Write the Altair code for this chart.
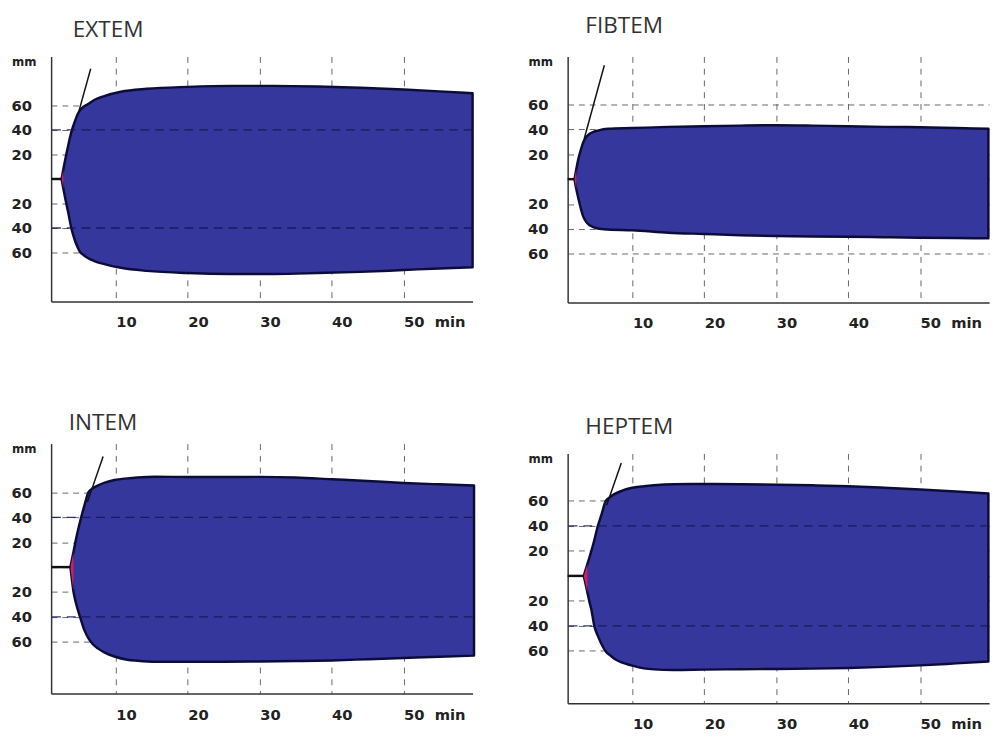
import altair as alt
import pandas as pd

# ---------------- data ----------------
# time (min), upper amplitude (mm), lower amplitude (mm, negative side)
ext_t = [2.45, 2.7, 3.0, 3.4, 3.8, 4.3, 4.7, 5.0, 5.5, 6.1, 7.0, 8.4, 10.7, 14.3, 20, 26, 32, 38, 44, 50, 55, 59.6]
ext_up = [0, 8, 17, 28, 38, 47, 53, 56, 59, 61, 64.5, 67.7, 71.2, 73.6, 75.2, 76, 76, 75.5, 74.5, 73, 71.5, 70]
ext_lo = [0, -8, -17, -28, -40, -50, -56, -59.5, -62, -64.5, -67, -69.5, -72.5, -75, -76.8, -77.5, -77.5, -76.8, -75.8, -74.3, -73, -72]
ext_ct = 2.45
ext_tan_t = [4.8, 6.5]
ext_tan_y = [54, 90]

fib_t = [1.95, 2.2, 2.5, 2.85, 3.2, 3.6, 4.05, 4.6, 5.2, 6.6, 10, 15, 20, 25, 30, 35, 40, 45, 50, 55, 59.5]
fib_up = [0, 8, 16.5, 24, 30, 34, 36.5, 38, 39, 40.4, 41, 42, 42.5, 43, 43.3, 43, 42.5, 42, 41.7, 41, 40.4]
fib_lo = [0, -8, -15.7, -24, -30.5, -34.5, -37, -38.5, -39.6, -40.4, -41, -43, -44, -45, -45.7, -46, -46.2, -46.6, -47, -47.3, -47.5]
fib_ct = 1.95
fib_tan_t = [3.3, 6.1]
fib_tan_y = [32.5, 91.5]

int_t = [3.68, 3.85, 4.1, 4.37, 4.75, 5.18, 5.65, 6.18, 6.8, 7.54, 8.46, 9.8, 11.6, 13, 15.5, 20, 25, 30, 35, 40, 45, 50, 55, 59.8]
int_up = [0, 5, 12, 20, 30, 40, 50, 60, 63.3, 65.6, 67.8, 70, 71.3, 72, 72.6, 72.4, 72.4, 72.5, 72, 70.6, 69.2, 67.6, 66.5, 65.6]
int_lo = [0, -8, -19.5, -27, -35, -43, -51, -57, -62, -65.5, -68.7, -71.8, -74.4, -75.2, -76, -76, -76, -75.8, -75.5, -75, -74, -73, -72, -71.1]
int_ct = 3.68
int_tan_t = [6.04, 8.23]
int_tan_y = [52.2, 88.9]

hep_t = [3.24, 3.45, 3.75, 4.0, 4.3, 4.7, 5.2, 5.7, 6.3, 7.0, 7.55, 8.5, 9.8, 11.6, 13, 15.7, 20, 25, 30, 35, 40, 45, 50, 55, 59.5]
hep_up = [0, 4, 9.6, 14.3, 20, 28.5, 40, 49, 60, 63.5, 65.6, 68, 70.3, 71.8, 72.6, 73.4, 73.5, 73.3, 73, 72.5, 71.8, 70.6, 69.2, 67.6, 66]
hep_lo = [0, -5.5, -13.4, -20, -27, -40, -48, -54.5, -60.5, -64, -66.5, -69.2, -71.5, -74, -74.8, -75.3, -75, -74.7, -74.5, -74.2, -73.7, -72.8, -71.6, -70, -68.5]
hep_ct = 3.24
hep_tan_t = [6.42, 8.46]
hep_tan_y = [56.5, 90.4]

x_ticks = [10, 20, 30, 40, 50]
y_ticks = [-60, -40, -20, 0, 20, 40, 60]

# ---------------- styling ----------------
BLUE = "#35379c"
OUTLINE = "#0c0c3a"
RED = "#d02060"
GRID = "#666666"
LABEL_FONT = "DejaVu Sans"
XDOM = [1, 59.6]
W = 430
NB = "\u00a0"


def make_panel(name, t, up, lo, ct, tan_t, tan_y, ydom, h, over40, tdx, toff, nred):
    df = pd.DataFrame({"t": t, "up": up, "lo": lo})
    xs = alt.Scale(domain=XDOM, nice=False, zero=False)
    ys = alt.Scale(domain=ydom, nice=False, zero=False)
    xaxis = alt.Axis(
        values=x_ticks, title=None, ticks=False,
        labelExpr="datum.value == 50 ? '50" + NB + NB + "min' : datum.label",
        labelAlign="left", labelBaseline="top", labelPadding=14,
        labelFont=LABEL_FONT, labelFontSize=15, labelFontWeight="bold", labelColor="#222",
        labelFlush=False, labelOverlap=False,
        grid=True, gridDash=[6, 6], gridColor=GRID, gridWidth=1,
        domainColor="#333", domainWidth=1.5,
    )
    yaxis = alt.Axis(
        values=y_ticks, title="mm", ticks=False,
        labelExpr="datum.value == 0 ? '' : format(abs(datum.value), 'd')",
        labelPadding=20, labelFont=LABEL_FONT, labelFontSize=15, labelFontWeight="bold",
        labelColor="#222", labelOverlap=False, labelFlush=False,
        titleAngle=0, titleX=-28, titleY=5, titleAlign="center", titleBaseline="middle",
        titleFont=LABEL_FONT, titleFontSize=12, titleFontWeight="bold", titleColor="#222",
        grid=True, gridDash=[6, 5], gridColor=GRID, gridWidth=1,
        domainColor="#333", domainWidth=1.5,
    )
    X = alt.X("t:Q", scale=xs, axis=xaxis)
    Y = alt.Y("up:Q", scale=ys, axis=yaxis)
    area = alt.Chart(df).mark_area(
        fill=BLUE, stroke=OUTLINE, strokeWidth=2.5, interpolate="monotone", strokeJoin="round"
    ).encode(x=X, y=Y, y2="lo:Q")
    layers = [area]
    if over40:
        rules = alt.Chart(pd.DataFrame({"up": [40, -40]})).mark_rule(
            color="#141652", strokeDash=[9, 6], strokeWidth=1.3, opacity=0.85
        ).encode(y=Y)
        layers.append(rules)
    red = alt.Chart(df.iloc[:nred]).mark_area(fill=RED, interpolate="linear").encode(
        x=X, y=Y, y2="lo:Q"
    )
    base = alt.Chart(pd.DataFrame({"t": [XDOM[0], ct], "up": [0, 0]})).mark_line(
        color="#111", strokeWidth=2.5
    ).encode(x=X, y=Y)
    tan = alt.Chart(pd.DataFrame({"t": tan_t, "up": tan_y})).mark_line(
        color="#111", strokeWidth=1.5
    ).encode(x=X, y=Y)
    layers += [red, base, tan]
    return alt.layer(*layers).properties(
        width=W, height=h,
        title=alt.TitleParams(
            name, anchor="start", frame="group", dx=tdx, offset=toff, baseline="alphabetic",
            font="Open Sans", fontSize=23, fontWeight="normal", color="#333",
        ),
    )


ext = make_panel("EXTEM", ext_t, ext_up, ext_lo, ext_ct, ext_tan_t, ext_tan_y, [-100, 100], 250, True, 22, -4, 2)
fib = make_panel("FIBTEM", fib_t, fib_up, fib_lo, fib_ct, fib_tan_t, fib_tan_y, [-99, 98.5], 251, False, 18, 0, 2)
intm = make_panel("INTEM", int_t, int_up, int_lo, int_ct, int_tan_t, int_tan_y, [-101.6, 99.2], 255, True, 18, -10, 3)
hep = make_panel("HEPTEM", hep_t, hep_up, hep_lo, hep_ct, hep_tan_t, hep_tan_y, [-102, 98], 255, True, 18, -4, 3)

col1 = alt.vconcat(ext, intm, spacing=145, bounds="flush")
col2 = alt.vconcat(fib, hep, spacing=154, bounds="flush")
chart = alt.hconcat(col1, col2, spacing=53).configure_view(stroke=None).properties(
    background="white",
    padding={"left": 3, "top": 0, "right": 5, "bottom": 5},
)

chart.save("out.html", embed_options={"renderer": "svg", "actions": False})
